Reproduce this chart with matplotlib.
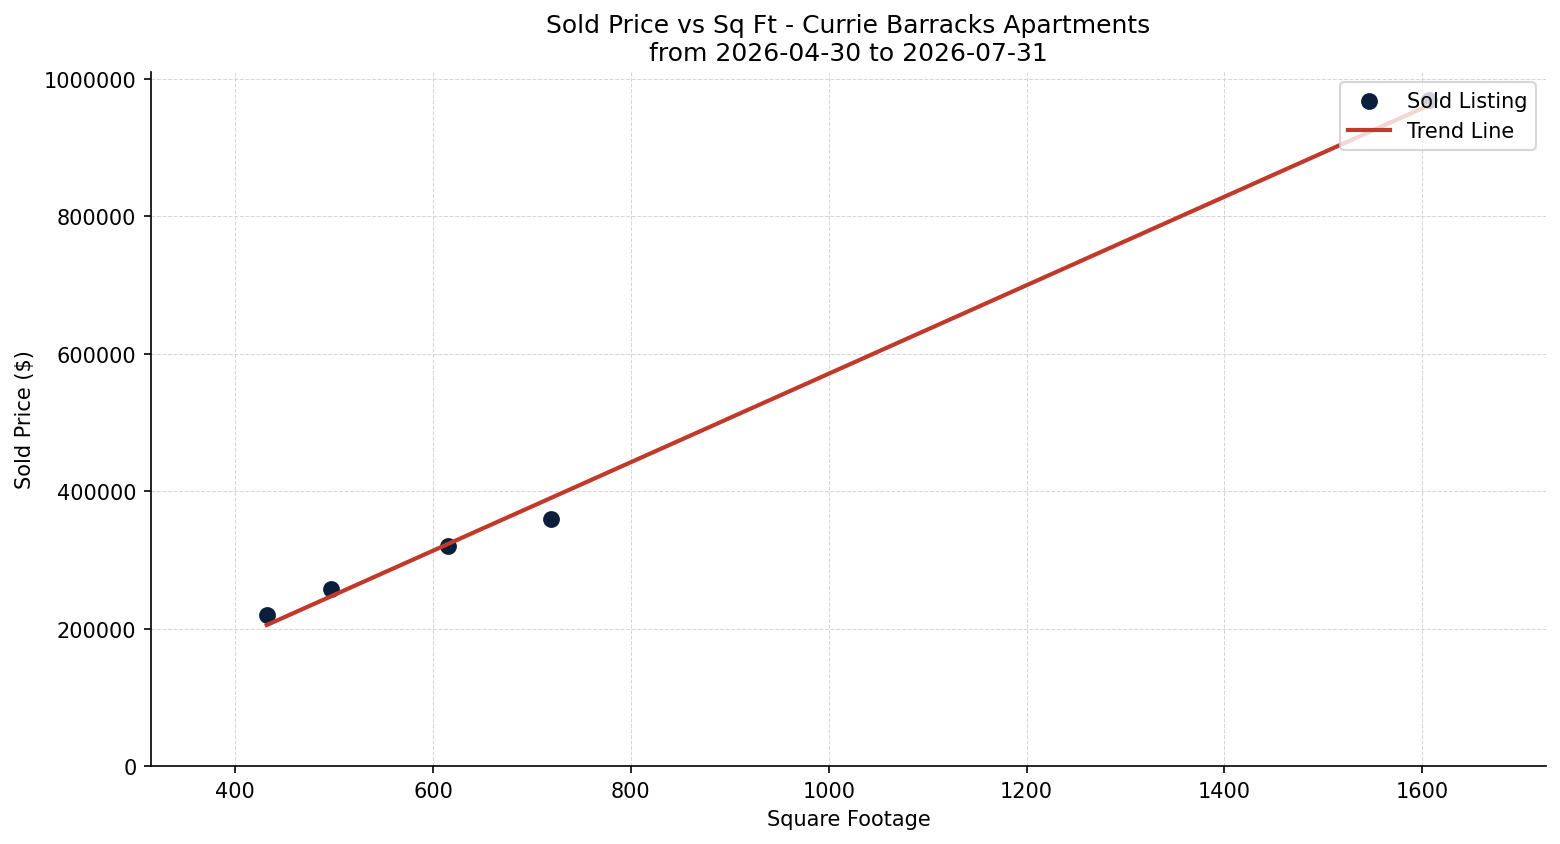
import matplotlib.pyplot as plt, numpy as np

# sold listings (sq ft, sold price)
sqft = np.array([432, 497, 615, 719, 1607])
price = np.array([220000, 258000, 320000, 360000, 969000])

title = 'Sold Price vs Sq Ft - Currie Barracks Apartments\nfrom 2026-04-30 to 2026-07-31'

# trend line from a linear fit of the listings
coef = np.polyfit(sqft, price, 1)
xs = np.linspace(sqft.min(), sqft.max(), 100)
ys = np.polyval(coef, xs)

fig, ax = plt.subplots(figsize=(10.4, 5.633), dpi=150)
ax.scatter(sqft, price, s=50, color='#0b1f3d', label='Sold Listing', zorder=2)
ax.plot(xs, ys, color='#c0392b', linewidth=2, label='Trend Line', zorder=3)

ax.set_title(title, fontsize=12)
ax.set_xlabel('Square Footage')
ax.set_ylabel('Sold Price ($)')
ax.set_xlim(315, 1725)
ax.set_ylim(0, 1010000)
ax.ticklabel_format(style='plain', axis='y', useOffset=False)
ax.grid(True, linestyle='--', linewidth=0.5, color='#cccccc', alpha=0.8)
ax.set_axisbelow(True)
ax.spines['top'].set_visible(False)
ax.spines['right'].set_visible(False)
ax.legend(loc='upper right')

fig.subplots_adjust(left=0.0968, right=0.991, top=0.9136, bottom=0.0923)
fig.savefig('out.png', dpi=150)
plt.close(fig)
